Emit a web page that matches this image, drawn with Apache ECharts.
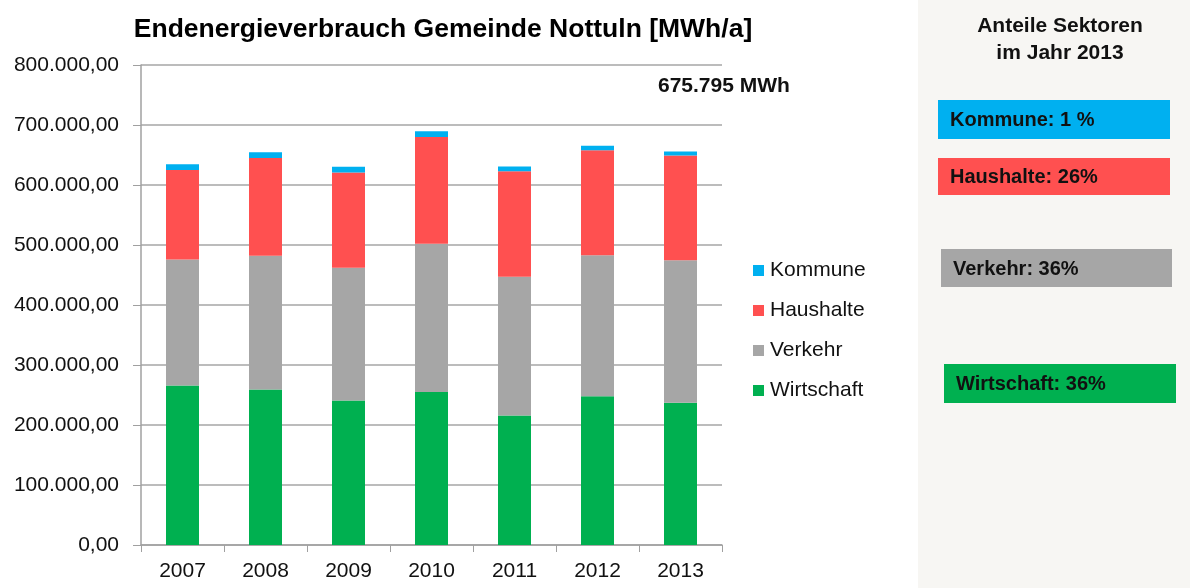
<!DOCTYPE html>
<html>
<head>
<meta charset="utf-8">
<script src="https://cdn.jsdelivr.net/npm/echarts@6/dist/echarts.min.js"></script>
<style>
    html, body { margin: 0; padding: 0; background: #fff; }
    #chart { width: 1190px; height: 588px; }
</style>
</head>
<body>
<div id="chart"></div>
<script>
// Jahre und Sektoren (MWh/a), von unten nach oben gestapelt
var years = ['2007', '2008', '2009', '2010', '2011', '2012', '2013'];
var wirtschaft = [266000, 259000, 241000, 255000, 216000, 248000, 237000];
var verkehr = [210000, 223000, 221000, 247000, 231000, 235000, 237500];
var haushalte = [149000, 163000, 159000, 178000, 176000, 175000, 174500];
var kommune = [9500, 9500, 9500, 9500, 8000, 7500, 7000];

// Anteile im Jahr 2013 (rechte Spalte)
var shareNames = ['Kommune', 'Haushalte', 'Verkehr', 'Wirtschaft'];
var shareTexts = ['Kommune: 1 %', 'Haushalte: 26%', 'Verkehr: 36%', 'Wirtschaft: 36%'];
var totalText = '675.795 MWh';

var colors = {
    Kommune: '#00b0f0',
    Haushalte: '#ff5050',
    Verkehr: '#a6a6a6',
    Wirtschaft: '#00b050'
};

var font = '"Liberation Sans", Arial, sans-serif';

function fmtDe(v) {
    // 800000 -> 800.000,00
    var s = String(Math.round(v)).replace(/\B(?=(\d{3})+(?!\d))/g, '.');
    return s + ',00';
}

var chart = echarts.init(document.getElementById('chart'), null, { renderer: 'canvas' });

// Boxen rechts
var boxPos = [
    { x: 938, y: 100, w: 232, h: 39 },
    { x: 938, y: 158, w: 232, h: 37 },
    { x: 941, y: 249, w: 231, h: 38 },
    { x: 944, y: 364, w: 232, h: 39 }
];
var panelGraphics = [{
    type: 'rect',
    shape: { x: 918, y: 0, width: 272, height: 588 },
    style: { fill: '#f7f6f3' },
    z: -10
}, {
    type: 'text',
    x: 1060, y: 13,
    style: {
        text: 'Anteile Sektoren\nim Jahr 2013',
        font: 'bold 21px ' + font,
        fill: '#111',
        align: 'center',
        lineHeight: 27
    }
}, {
    type: 'text',
    x: 658, y: 76,
    style: { text: totalText, font: 'bold 21px ' + font, fill: '#111' }
}];
shareNames.forEach(function (name, i) {
    var b = boxPos[i];
    panelGraphics.push({
        type: 'rect',
        shape: { x: b.x, y: b.y, width: b.w, height: b.h },
        style: { fill: colors[name] }
    });
    panelGraphics.push({
        type: 'text',
        x: b.x + 12, y: b.y + b.h / 2 + 1,
        style: {
            text: shareTexts[i],
            font: 'bold 20px ' + font,
            fill: '#111',
            verticalAlign: 'middle'
        }
    });
});

function barSeries(name, data) {
    return {
        name: name,
        type: 'bar',
        stack: 'total',
        barWidth: 33,
        data: data,
        itemStyle: { color: colors[name] }
    };
}

var option = {
    animation: false,
    title: {
        text: 'Endenergieverbrauch Gemeinde Nottuln [MWh/a]',
        left: 438,
        textAlign: 'center',
        top: 11,
        textStyle: { fontFamily: font, fontSize: 26.5, fontWeight: 'bold', color: '#000' }
    },
    grid: { left: 141, right: 468, top: 65, bottom: 43 },
    legend: {
        orient: 'vertical',
        left: 748,
        top: 255,
        itemGap: 19,
        itemWidth: 11,
        itemHeight: 11,
        icon: 'rect',
        data: ['Kommune', 'Haushalte', 'Verkehr', 'Wirtschaft'],
        textStyle: { fontFamily: font, fontSize: 21, color: '#111', padding: [0, 0, 0, 1] }
    },
    xAxis: {
        type: 'category',
        data: years,
        axisLine: { lineStyle: { color: '#a0a0a0', width: 1.5 } },
        axisTick: { show: true, length: 7, lineStyle: { color: '#a0a0a0' } },
        axisLabel: { fontFamily: font, fontSize: 21, color: '#111', margin: 16 }
    },
    yAxis: {
        type: 'value',
        min: 0,
        max: 800000,
        interval: 100000,
        axisLine: { show: true, lineStyle: { color: '#a0a0a0', width: 1.5 } },
        axisTick: { show: true, length: 8, lineStyle: { color: '#a0a0a0' } },
        splitLine: { lineStyle: { color: '#a6a6a6', width: 1.5 } },
        axisLabel: {
            fontFamily: font, fontSize: 21, color: '#111', margin: 22,
            formatter: fmtDe
        }
    },
    series: [
        barSeries('Wirtschaft', wirtschaft),
        barSeries('Verkehr', verkehr),
        barSeries('Haushalte', haushalte),
        barSeries('Kommune', kommune)
    ],
    graphic: panelGraphics
};

chart.setOption(option);
</script>
</body>
</html>
